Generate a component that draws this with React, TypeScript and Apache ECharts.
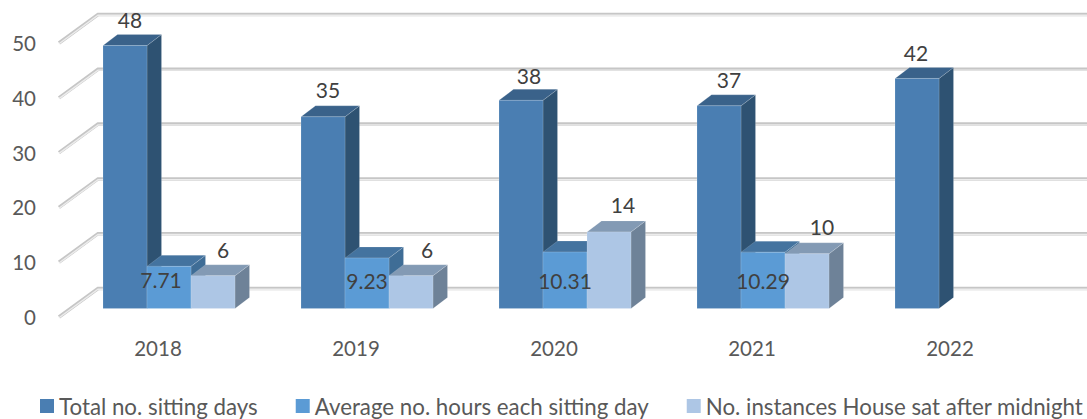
import React, { useEffect, useRef } from "react";
import * as echarts from "echarts";

const years = ["2018", "2019", "2020", "2021", "2022"];
const seriesNames = ["Total no. sitting days", "Average no. hours each sitting day", "No. instances House sat after midnight"];
const totalDays = [48, 35, 38, 37, 42];
const avgHours = [7.71, 9.23, 10.31, 10.29, null];
const lateSits = [6, 6, 14, 10, null];
const yTicks = [0, 10, 20, 30, 40, 50];

const labelShiftTotal = [[5, -26], [5, -27], [8, -25], [10, -26], [-1, -26]];
const labelShiftAvg = [[-8, 13], [0, 22], [0, 28], [0, 28], [0, 0]];
const labelShiftLate = [[10, -26], [16, -26], [14, -27], [15, -27], [0, 0]];

const FONT = "Lato";
const FLOOR = [39, 28.5];
const BAR_D = [14.5, 11];
const INSET = [12, 8.4];
const BAR_W = 44;

const palette = [
  { front: "#4a7eb2", side: "#2e5272", top: "#3a628a" },
  { front: "#5b9bd5", side: "#3f6d96", top: "#44739f" },
  { front: "#adc6e5", side: "#6e8298", top: "#839ab4" },
];

function barSeries(values: (number | null)[], s: number) {
  const c = palette[s];
  return {
    type: "custom",
    name: seriesNames[s],
    z: 3 + s,
    coordinateSystem: "cartesian2d",
    itemStyle: { color: c.front },
    data: values.map((v, i) => [i, v]),
    renderItem: (_p: any, api: any) => {
      const v = api.value(1);
      if (v == null || isNaN(v)) return null;
      const idx = api.value(0);
      const base = api.coord([idx, 0]);
      const tip = api.coord([idx, v]);
      const x0 = base[0] - (BAR_W * 3) / 2 + INSET[0] - 1 + s * BAR_W;
      const x1 = x0 + BAR_W;
      const y0 = base[1] - INSET[1];
      const y1 = tip[1] - INSET[1];
      const [dx, dy] = BAR_D;
      const edge = { stroke: "rgba(255,255,255,0.14)", lineWidth: 1 };
      return {
        type: "group",
        children: [
          { type: "polygon", shape: { points: [[x1, y0], [x1 + dx, y0 - dy], [x1 + dx, y1 - dy], [x1, y1]] }, style: { fill: c.side, ...edge } },
          { type: "polygon", shape: { points: [[x0, y1], [x1, y1], [x1 + dx, y1 - dy], [x0 + dx, y1 - dy]] }, style: { fill: c.top, ...edge } },
          { type: "rect", shape: { x: x0, y: y1, width: BAR_W, height: y0 - y1 }, style: { fill: c.front, ...edge } },
        ],
      };
    },
  };
}

function labelSeries(values: (number | null)[], s: number, shift: number[][]) {
  return {
    type: "custom",
    name: seriesNames[s] + " labels",
    z: 10,
    coordinateSystem: "cartesian2d",
    data: values.map((v, i) => [i, v]),
    renderItem: (_p: any, api: any) => {
      const v = api.value(1);
      if (v == null || isNaN(v)) return null;
      const idx = api.value(0);
      const base = api.coord([idx, 0]);
      const tip = api.coord([idx, v]);
      const cx = base[0] - (BAR_W * 3) / 2 + INSET[0] - 1 + s * BAR_W + BAR_W / 2 + shift[idx][0];
      const cy = tip[1] - INSET[1] + shift[idx][1];
      return {
        type: "text",
        x: cx,
        y: cy,
        style: { text: String(v), fill: "#404040", font: `21px ${FONT}`, align: "center", verticalAlign: "middle" },
      };
    },
  };
}

const wallSeries = {
  type: "custom",
  name: "wall",
  z: 1,
  coordinateSystem: "cartesian2d",
  data: yTicks.map((t) => [0, t]),
  renderItem: (_p: any, api: any) => {
    const p = api.coord([0, api.value(1)]);
    const half = api.size([1, 0])[0] / 2;
    const x = p[0] - half;
    const y = p[1];
    const pts = [[x, y], [x + FLOOR[0], y - FLOOR[1]], [1087, y - FLOOR[1]]];
    return {
      type: "group",
      children: [
        { type: "polyline", shape: { points: pts }, style: { stroke: "#c6c6c6", lineWidth: 3.5, fill: "none" } },
        { type: "polyline", shape: { points: pts.map(([a, b]) => [a, b + 0.8]) }, style: { stroke: "#ececec", lineWidth: 1.4, fill: "none" } },
      ],
    };
  },
};

export default function App() {
  const ref = useRef<HTMLDivElement>(null);
  useEffect(() => {
    document.body.style.margin = "0";
    const chart = echarts.init(ref.current!, undefined, { renderer: "svg" });
    chart.setOption({
      animation: false,
      backgroundColor: "#ffffff",
      grid: { left: 59, top: 43, width: 990, height: 274, containLabel: false },
      xAxis: {
        type: "category",
        data: years,
        axisLine: { show: false },
        axisTick: { show: false },
        axisLabel: { color: "#595959", fontFamily: FONT, fontSize: 20.5, margin: 20 },
      },
      yAxis: {
        type: "value",
        min: 0,
        max: 50,
        interval: 10,
        axisLine: { show: false },
        axisTick: { show: false },
        splitLine: { show: false },
        axisLabel: { color: "#595959", fontFamily: FONT, fontSize: 20.5, margin: 23, padding: [3, 0, 0, 0] },
      },
      legend: {
        data: seriesNames,
        left: 40,
        top: 395,
        width: 1047,
        padding: 0,
        itemWidth: 14,
        itemHeight: 14,
        itemGap: 38,
        icon: "rect",
        textStyle: { color: "#595959", fontFamily: FONT, fontSize: 22.3 },
      },
      series: [
        wallSeries,
        barSeries(totalDays, 0),
        barSeries(avgHours, 1),
        barSeries(lateSits, 2),
        labelSeries(totalDays, 0, labelShiftTotal),
        labelSeries(avgHours, 1, labelShiftAvg),
        labelSeries(lateSits, 2, labelShiftLate),
      ],
    });
    return () => chart.dispose();
  }, []);
  return <div ref={ref} style={{ position: "absolute", left: 0, top: 0, width: 1087, height: 419 }} />;
}
